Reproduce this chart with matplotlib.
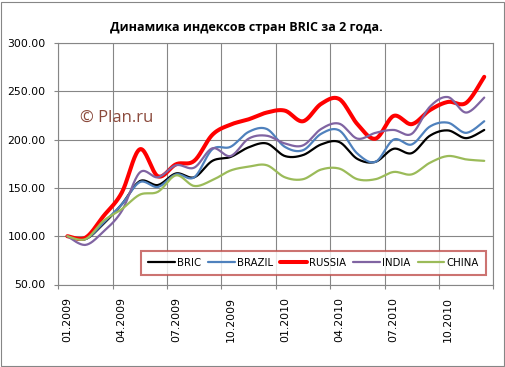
import numpy as np
import matplotlib
matplotlib.use('Agg')
import matplotlib.pyplot as plt
from matplotlib.patches import Rectangle

# monthly index values, 01.2009 .. 12.2010 (start = 100)
months = ['01.2009','04.2009','07.2009','10.2009','01.2010','04.2010','07.2010','10.2010']
bric   = [100, 97, 113, 133, 157, 153, 165, 161, 178, 182, 192, 196,
          183, 184, 195, 197.5, 180, 177, 190.5, 186, 204, 209.5, 201.5, 210]
brazil = [100, 97, 114, 133, 156, 151, 164, 161, 190, 192.5, 208, 211,
          192.5, 189, 206, 209.5, 185.5, 177, 200, 195, 213.5, 217.5, 207, 219]
russia = [100, 98.5, 121, 145, 190, 162, 174.5, 178, 205, 215.5, 221, 228,
          230, 219, 237, 242, 216, 201, 224.5, 216, 230.5, 239, 238, 265]
india  = [100, 91, 105, 126, 166, 161, 173.5, 171, 191, 183, 201, 204,
          196, 194, 211, 216.5, 201, 207, 210, 206, 234, 244, 228, 243.5]
china  = [100, 97, 116, 128, 143, 146, 163, 152, 158, 168, 172, 173.5,
          161, 159, 169, 170, 159, 159, 166.5, 164, 176, 183, 179.5, 178]

names  = ['BRIC', 'BRAZIL', 'RUSSIA', 'INDIA', 'CHINA']
colors = ['black', '#4F81BD', '#FF0000', '#8064A2', '#9BBB59']
widths = [1.6, 1.6, 2.9, 1.6, 1.6]

def smooth(y, n=20):
    # excel-like smoothed line (catmull-rom as bezier)
    pts = np.column_stack([np.arange(len(y)) + 0.5, y])
    P = np.vstack([pts[0], pts, pts[-1]])
    t = np.linspace(0, 1, n, endpoint=False)[:, None]
    out = []
    for i in range(1, len(P) - 2):
        p0, p1, p2, p3 = P[i-1], P[i], P[i+1], P[i+2]
        c1 = p1 + (p2 - p0) / 6
        c2 = p2 - (p3 - p1) / 6
        out.append((1-t)**3*p1 + 3*(1-t)**2*t*c1 + 3*(1-t)*t**2*c2 + t**3*p2)
    out.append(pts[-1:])
    return np.vstack(out)

W, H = 506, 367
fig = plt.figure(figsize=(W/100, H/100), dpi=100)
ax = fig.add_axes([58.3/W, 1-284.5/H, (493.3-58.3)/W, (284.5-43)/H])

for data, name, c, lw in zip([bric, brazil, russia, india, china], names, colors, widths):
    s = smooth(np.array(data, dtype=float))
    ax.plot(s[:, 0], s[:, 1], color=c, lw=lw, label=name, solid_capstyle='round')

ax.set_xlim(0, 24)
ax.set_ylim(50, 300)
ax.set_yticks(np.arange(50, 301, 50))
ax.set_yticklabels(['%.2f' % v for v in np.arange(50, 301, 50)])
ax.set_xticks(np.arange(0, 25, 3))
ax.set_xticklabels([])
ax.set_xticks(np.arange(0.5, 24, 3), minor=True)
ax.set_xticklabels(months, minor=True, rotation=90)
ax.tick_params(axis='x', which='major', length=3, color='#868686')
ax.tick_params(axis='x', which='minor', length=0, pad=9, labelsize=7.8)
ax.tick_params(axis='y', length=3, color='#868686', pad=6, labelsize=7.8)
ax.grid(True, which='major', color='#868686', lw=0.8)
ax.set_axisbelow(True)
for sp in ax.spines.values():
    sp.set_color('#868686')
    sp.set_linewidth(0.8)

leg = ax.legend(loc='center', bbox_to_anchor=((142+485)/2/W, 1-263/H),
                bbox_transform=fig.transFigure, ncol=5, fontsize=7.3,
                frameon=True, fancybox=False, handlelength=2.6,
                handletextpad=0.25, columnspacing=0.7, borderpad=0.7)
leg.get_frame().set_edgecolor('#C0504D')
leg.get_frame().set_linewidth(1.5)

fig.text(246.5/W, 1-28/H, 'Динамика индексов стран BRIC за 2 года.',
         ha='center', va='center', fontsize=9, fontweight='bold', family='Open Sans')
fig.text(80/W, 1-118/H, '© Plan.ru', ha='left', va='center', fontsize=12,
         color='#8B4A3C', family='Open Sans')

fig.patches.append(Rectangle((1.5/W, 1-365.5/H), 503/W, 364/H, transform=fig.transFigure,
                             fill=False, edgecolor='#868686', lw=0.8))

fig.savefig('out.png', dpi=100)
